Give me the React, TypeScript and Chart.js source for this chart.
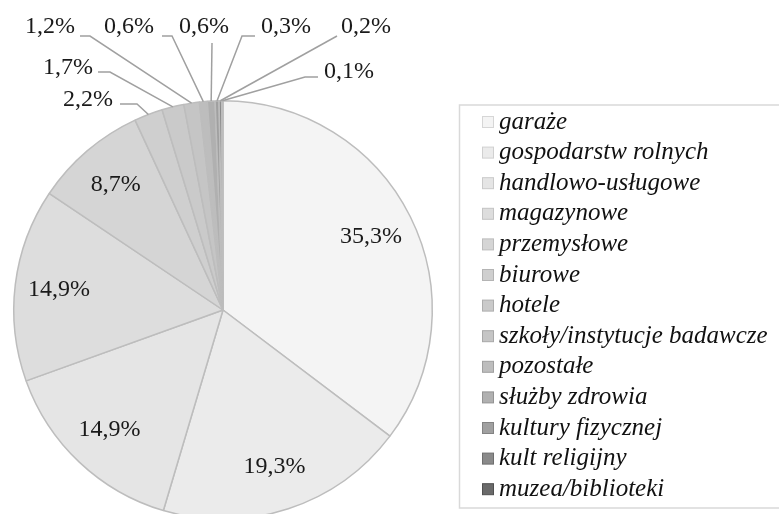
import { useEffect, useRef } from "react";
import { Chart, registerables } from "chart.js";
Chart.register(...registerables);

const categories = [
  "garaże",
  "gospodarstw rolnych",
  "handlowo-usługowe",
  "magazynowe",
  "przemysłowe",
  "biurowe",
  "hotele",
  "szkoły/instytucje badawcze",
  "pozostałe",
  "służby zdrowia",
  "kultury fizycznej",
  "kult religijny",
  "muzea/biblioteki",
];
const shares = [35.3, 19.3, 14.9, 14.9, 8.7, 2.2, 1.7, 1.2, 0.6, 0.6, 0.3, 0.2, 0.1];
const valueLabels = shares.map((v) => v.toFixed(1).replace(".", ",") + "%");

const sliceColors = [
  "#f4f4f4", "#ebebeb", "#e5e5e5", "#dddddd", "#d5d5d5", "#cfcfcf", "#cacaca",
  "#c5c5c5", "#bdbdbd", "#b0b0b0", "#a0a0a0", "#8a8a8a", "#6a6a6a",
];
const markerBorders = [
  "#d6d6d6", "#d0d0d0", "#cacaca", "#c4c4c4", "#bcbcbc", "#b4b4b4", "#aeaeae",
  "#a8a8a8", "#a0a0a0", "#939393", "#838383", "#6e6e6e", "#505050",
];

// label placement (offsets in px from the pie centre); null = inside the slice
type Outside = { t: [number, number]; s: [number, number]; e: [number, number] };
const labelLayout: (Outside | null)[] = [
  null, null, null, null, null,
  { t: [-135, -210], s: [-103, -206], e: [-86, -206] },
  { t: [-155, -242], s: [-125, -238], e: [-113, -238] },
  { t: [-173, -283], s: [-143, -274], e: [-133, -274] },
  { t: [-94, -283], s: [-61, -274], e: [-51, -274] },
  { t: [-19, -283], s: [-11, -267], e: [-11, -267] },
  { t: [63, -283], s: [32, -274], e: [19, -274] },
  { t: [143, -283], s: [114, -274], e: [114, -274] },
  { t: [126, -238], s: [95, -233], e: [82, -233] },
];

const labelFont = "24px 'Liberation Serif', serif";
const legendFont = "italic 25px 'Liberation Serif', serif";

const labelPlugin = {
  id: "sliceLabels",
  afterDatasetsDraw(chart: any) {
    const ctx = chart.ctx;
    const meta = chart.getDatasetMeta(0);
    ctx.save();
    ctx.font = labelFont;
    ctx.fillStyle = "#1a1a1a";
    ctx.textAlign = "center";
    ctx.textBaseline = "middle";
    meta.data.forEach((arc: any, i: number) => {
      const { x, y, startAngle, endAngle, outerRadius } = arc.getProps(
        ["x", "y", "startAngle", "endAngle", "outerRadius"], true
      );
      const mid = (startAngle + endAngle) / 2;
      const lay = labelLayout[i];
      if (!lay) {
        const r = outerRadius * 0.79;
        ctx.fillText(valueLabels[i], x + Math.cos(mid) * r, y + Math.sin(mid) * r);
      } else {
        const px = x + Math.cos(mid) * outerRadius;
        const py = y + Math.sin(mid) * outerRadius;
        ctx.strokeStyle = "#a0a0a0";
        ctx.lineWidth = 1.5;
        ctx.beginPath();
        ctx.moveTo(x + lay.s[0], y + lay.s[1]);
        ctx.lineTo(x + lay.e[0], y + lay.e[1]);
        ctx.lineTo(px, py);
        ctx.stroke();
        ctx.fillText(valueLabels[i], x + lay.t[0], y + lay.t[1]);
      }
    });
    ctx.restore();
  },
};

const legendPlugin = {
  id: "boxLegend",
  afterDraw(chart: any) {
    const ctx = chart.ctx;
    const labels: string[] = chart.data.labels;
    const colors: string[] = chart.data.datasets[0].backgroundColor;
    ctx.save();
    ctx.strokeStyle = "#d9d9d9";
    ctx.lineWidth = 1.5;
    ctx.strokeRect(459.5, 105, 340, 403);
    ctx.font = legendFont;
    ctx.textAlign = "left";
    ctx.textBaseline = "middle";
    labels.forEach((lab, i) => {
      const yy = 122 + i * 30.6;
      ctx.fillStyle = colors[i];
      ctx.fillRect(482.5, yy - 5.5, 11, 11);
      ctx.strokeStyle = markerBorders[i];
      ctx.lineWidth = 1;
      ctx.strokeRect(482.5, yy - 5.5, 11, 11);
      ctx.fillStyle = "#111";
      ctx.fillText(lab, 499, yy);
    });
    ctx.restore();
  },
};

export default function App() {
  const ref = useRef<HTMLCanvasElement | null>(null);
  useEffect(() => {
    if (!ref.current) return;
    const chart = new Chart(ref.current, {
      type: "pie",
      data: {
        labels: categories,
        datasets: [
          {
            data: shares,
            backgroundColor: sliceColors,
            borderColor: "#bdbdbd",
            borderWidth: 1.5,
          },
        ],
      },
      options: {
        animation: false,
        responsive: false,
        layout: { padding: { left: 13, right: 346, top: 100, bottom: 10 } },
        plugins: { legend: { display: false }, tooltip: { enabled: false } },
      },
      plugins: [labelPlugin, legendPlugin],
    });
    return () => chart.destroy();
  }, []);
  return (
    <div style={{ position: "fixed", left: 0, top: 0, width: 779, height: 514, overflow: "hidden", background: "#fff" }}>
      <canvas ref={ref} width={779} height={530} style={{ width: 779, height: 530, display: "block" }} />
    </div>
  );
}
